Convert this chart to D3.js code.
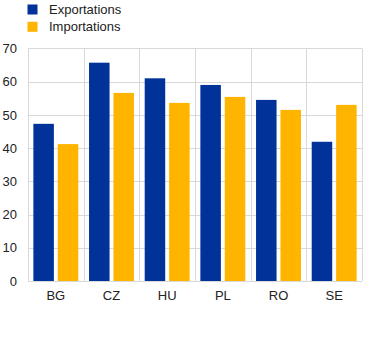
<!DOCTYPE html>
<html><head><meta charset="utf-8">
<script src="https://cdn.jsdelivr.net/npm/d3@7"></script>
<style>body{margin:0;background:#fff}svg{display:block}text{font-family:Arial,"Liberation Sans",sans-serif;fill:#222}</style>
</head><body><svg id="c" width="372" height="346"></svg>
<script>
const categories = ["BG","CZ","HU","PL","RO","SE"];
const seriesNames = ["Exportations","Importations"];
const exportations = [47.3, 65.7, 61.0, 59.0, 54.5, 41.9];
const importations = [41.2, 56.6, 53.6, 55.4, 51.5, 53.0];
const yTicks = [0,10,20,30,40,50,60,70];
const colors = ["#003299","#FFB400"];

(function(){
const svg = d3.select("#c");
const pl = 28, pr = 362, pt = 48.4, pb = 281;
const x = d3.scaleBand().domain(categories).range([pl,pr]).paddingInner(0).paddingOuter(0);
const x1 = d3.scaleBand().domain(seriesNames).range([0,x.bandwidth()]).paddingInner(0.16).paddingOuter(0.22);
const y = d3.scaleLinear().domain([0,70]).range([pb, pt]);

svg.append("g").selectAll("line").data(yTicks.filter(d=>d>0)).join("line")
  .attr("x1",pl).attr("x2",pr).attr("y1",d=>Math.round(y(d))+0.5).attr("y2",d=>Math.round(y(d))+0.5)
  .attr("stroke","#d9d9d9").attr("stroke-width",1);
svg.append("g").selectAll("line").data(categories).join("line")
  .attr("x1",d=>Math.round(x(d)+x.bandwidth())+0.5).attr("x2",d=>Math.round(x(d)+x.bandwidth())+0.5)
  .attr("y1",pt).attr("y2",pb).attr("stroke","#d9d9d9");
svg.append("line").attr("x1",pl+0.5).attr("x2",pl+0.5).attr("y1",pt).attr("y2",pb).attr("stroke","#d9d9d9");

const data = categories.map((c,i)=>({c, vals:[exportations[i], importations[i]]}));
const g = svg.append("g").selectAll("g").data(data).join("g").attr("transform",d=>`translate(${x(d.c)},0)`);
g.selectAll("rect").data(d=>d.vals.map((v,j)=>({v,s:seriesNames[j],j}))).join("rect")
  .attr("x",d=>x1(d.s)).attr("width",x1.bandwidth())
  .attr("y",d=>y(d.v)).attr("height",d=>y(0)-y(d.v)).attr("fill",d=>colors[d.j]);

svg.append("line").attr("x1",pl).attr("x2",pr).attr("y1",pb+0.5).attr("y2",pb+0.5).attr("stroke","#d9d9d9");

const ya = svg.append("g").attr("transform",`translate(${pl},0)`).call(d3.axisLeft(y).tickValues(yTicks).tickSize(0).tickPadding(11));
ya.select(".domain").remove();
ya.selectAll("text").attr("font-size","13px").attr("font-family","Arial,'Liberation Sans',sans-serif").attr("fill","#222");

const xa = svg.append("g").attr("transform",`translate(0,${pb})`).call(d3.axisBottom(x).tickSize(0).tickPadding(10));
xa.select(".domain").remove();
xa.selectAll("text").attr("font-size","13px").attr("font-family","Arial,'Liberation Sans',sans-serif").attr("fill","#222");

const lg = svg.append("g").selectAll("g").data(seriesNames).join("g").attr("transform",(d,i)=>`translate(27.5,${4.5+i*17.3})`);
lg.append("rect").attr("width",10).attr("height",10).attr("fill",(d,i)=>colors[i]);
lg.append("text").attr("x",21.5).attr("y",9).attr("font-size","13px").text(d=>d);
})();
</script></body></html>
